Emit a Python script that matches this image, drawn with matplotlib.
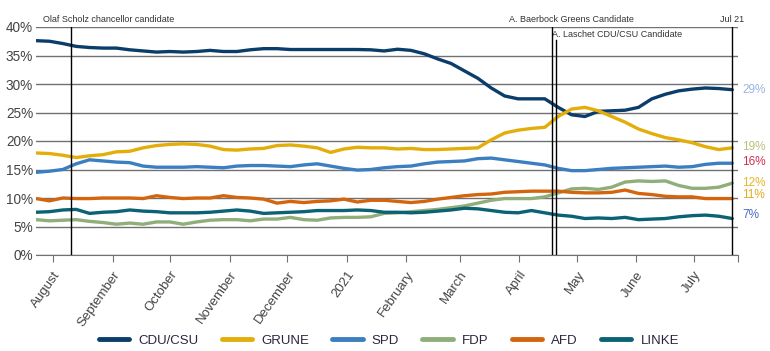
import numpy as np
import pandas as pd
import matplotlib
matplotlib.use("Agg")
import matplotlib.pyplot as plt
import matplotlib.dates as mdates
import matplotlib.transforms as mtransforms

plt.rcParams['font.family'] = ['Liberation Sans', 'DejaVu Sans']

# Weekly poll averages, Jul 2020 - Jul 2021
dates = pd.date_range('2020-07-23', '2021-07-21', periods=53)

cdu = [37.6, 37.5, 37.1, 36.6, 36.4, 36.3, 36.3, 36.0, 35.8, 35.6, 35.7, 35.6, 35.7, 35.9,
       35.7, 35.7, 36.0, 36.2, 36.2, 36.05, 36.05, 36.05, 36.05, 36.05, 36.05, 36.0, 35.8,
       36.1, 35.9, 35.3, 34.4, 33.6, 32.3, 31.0, 29.3, 27.9, 27.4, 27.4, 27.4, 25.9, 24.6,
       24.3, 25.2, 25.3, 25.4, 25.9, 27.4, 28.2, 28.8, 29.1, 29.3, 29.2, 29.0]
grune = [17.9, 17.8, 17.5, 17.1, 17.4, 17.6, 18.1, 18.2, 18.8, 19.2, 19.4, 19.5, 19.4, 19.1,
         18.5, 18.4, 18.6, 18.7, 19.2, 19.3, 19.1, 18.8, 18.0, 18.6, 18.9, 18.8, 18.8, 18.6,
         18.7, 18.5, 18.5, 18.6, 18.7, 18.8, 20.2, 21.4, 21.9, 22.2, 22.4, 24.3, 25.6, 25.9,
         25.3, 24.3, 23.3, 22.1, 21.3, 20.6, 20.2, 19.7, 19.0, 18.5, 18.8]
spd = [14.5, 14.7, 15.0, 16.0, 16.7, 16.5, 16.3, 16.2, 15.6, 15.4, 15.4, 15.4, 15.5, 15.4,
       15.3, 15.6, 15.7, 15.7, 15.6, 15.5, 15.8, 16.0, 15.6, 15.2, 14.9, 15.0, 15.3, 15.5,
       15.6, 16.0, 16.3, 16.4, 16.5, 16.9, 17.0, 16.7, 16.4, 16.1, 15.8, 15.2, 14.8, 14.8,
       15.0, 15.2, 15.3, 15.4, 15.5, 15.6, 15.4, 15.5, 15.9, 16.1, 16.1]
fdp = [6.2, 6.0, 6.1, 6.2, 5.9, 5.7, 5.4, 5.6, 5.4, 5.8, 5.8, 5.4, 5.8, 6.1, 6.2, 6.2, 6.0,
       6.3, 6.3, 6.6, 6.2, 6.1, 6.5, 6.6, 6.6, 6.7, 7.3, 7.4, 7.6, 7.8, 8.0, 8.3, 8.6, 9.1,
       9.6, 9.9, 9.9, 9.9, 10.2, 10.9, 11.6, 11.7, 11.5, 11.9, 12.8, 13.0, 12.9, 13.0, 12.2,
       11.7, 11.7, 11.9, 12.6]
afd = [9.9, 9.5, 10.0, 9.9, 9.9, 10.0, 10.0, 10.0, 9.9, 10.4, 10.1, 9.9, 10.0, 10.0, 10.4,
       10.1, 10.0, 9.8, 9.1, 9.4, 9.2, 9.4, 9.5, 9.8, 9.3, 9.6, 9.6, 9.4, 9.2, 9.4, 9.8, 10.1,
       10.4, 10.6, 10.7, 11.0, 11.1, 11.2, 11.2, 11.2, 11.0, 10.9, 10.9, 11.0, 11.4, 10.8,
       10.6, 10.3, 10.2, 10.2, 9.9, 9.9, 9.9]
linke = [7.5, 7.6, 7.9, 8.0, 7.3, 7.5, 7.6, 7.9, 7.7, 7.6, 7.4, 7.4, 7.4, 7.5, 7.7, 7.9, 7.7,
         7.3, 7.4, 7.5, 7.6, 7.8, 7.8, 7.8, 7.9, 7.8, 7.5, 7.5, 7.4, 7.5, 7.7, 7.9, 8.2, 8.1,
         7.8, 7.5, 7.4, 7.8, 7.4, 7.0, 6.8, 6.4, 6.5, 6.4, 6.6, 6.2, 6.3, 6.4, 6.7, 6.9, 7.0,
         6.8, 6.4]

parties = ['CDU/CSU', 'GRUNE', 'SPD', 'FDP', 'AFD', 'LINKE']
series = [cdu, grune, spd, fdp, afd, linke]
colors = ['#0b3d6b', '#e3ae0a', '#3b7fc0', '#8fae7a', '#d4650f', '#0b6274']

end_labels = ['29%', '19%', '16%', '12%', '11%', '7%']
end_colors = ['#98b6e0', '#b9c27c', '#d0304e', '#e8b52c', '#e6a820', '#4a6cc0']
end_offsets = [0.0, 0.1, 0.3, 0.0, 0.6, 0.6]

events = [('2021-07-21', 'Jul 21'),
          ('2020-08-10', 'Olaf Scholz chancellor candidate'),
          ('2021-04-18', 'A. Baerbock Greens Candidate'),
          ('2021-04-20', 'A. Laschet CDU/CSU Candidate')]

month_ticks = pd.date_range('2020-08-01', '2021-07-01', freq='MS')
month_labels = ['August', 'September', 'October', 'November', 'December', '2021',
                'February', 'March', 'April', 'May', 'June', 'July']

fig = plt.figure(figsize=(7.7, 3.51), dpi=100)
ax = fig.add_axes([36 / 770, 96 / 351, 702 / 770, 228 / 351])

for name, vals, c in zip(parties, series, colors):
    ax.plot(dates, vals, color=c, lw=2.4, label=name, solid_capstyle='round',
            solid_joinstyle='round', zorder=3)

ax.set_ylim(0, 40)
ax.set_xlim(pd.Timestamp('2020-07-23'), pd.Timestamp('2021-07-24'))
ax.set_yticks(np.arange(0, 41, 5))
ax.set_yticklabels([f'{v}%' for v in range(0, 41, 5)])
ax.yaxis.grid(True, color='#717171', lw=1.0)
ax.set_axisbelow(True)
for s in ['top', 'right', 'left']:
    ax.spines[s].set_visible(False)
ax.spines['bottom'].set_color('#717171')
ax.tick_params(axis='y', length=0, labelsize=9.8, labelcolor='#444444', pad=2)

ax.set_xticks(list(month_ticks) + [pd.Timestamp('2021-07-24')])
ax.set_xticklabels(month_labels + [''], rotation=55, ha='right', va='top',
                   rotation_mode='anchor')
ax.tick_params(axis='x', length=5, color='#717171', labelsize=9.5, labelcolor='#444444',
               pad=5)

# event lines
trans = mtransforms.blended_transform_factory(ax.transData, ax.transAxes)
ev_top = [1.0, 1.0, 1.0, 0.943]
ev_text_y = [1.035, 1.035, 1.035, 0.969]
ev_dx = [0, -20, -31, -3]
ev_ha = ['center', 'left', 'left', 'left']
for (d, txt), top, ty, dx, ha in zip(events, ev_top, ev_text_y, ev_dx, ev_ha):
    x = mdates.date2num(pd.Timestamp(d))
    ax.axvline(x, ymin=0, ymax=top, color='black', lw=1.0, zorder=4)
    ax.annotate(txt, xy=(x, ty), xycoords=trans, xytext=(dx, 0),
                textcoords='offset points', ha=ha, va='center', fontsize=6.5,
                color='#333333', annotation_clip=False)

# end-of-line value labels
for vals, lab, c, off in zip(series, end_labels, end_colors, end_offsets):
    ax.annotate(lab, xy=(mdates.date2num(dates[-1]), vals[-1] + off), xytext=(7, 0),
                textcoords='offset points', ha='left', va='center', fontsize=8.5,
                color=c, annotation_clip=False)

leg = fig.legend(loc='center', bbox_to_anchor=(0.505, 0.03), ncol=6, frameon=False,
                 fontsize=9.5, handlelength=2.3, handletextpad=0.7, columnspacing=1.75)
for h in leg.get_lines():
    h.set_linewidth(3.5)
for t in leg.get_texts():
    t.set_color('#2a2540')

fig.savefig('out.png', dpi=100)
